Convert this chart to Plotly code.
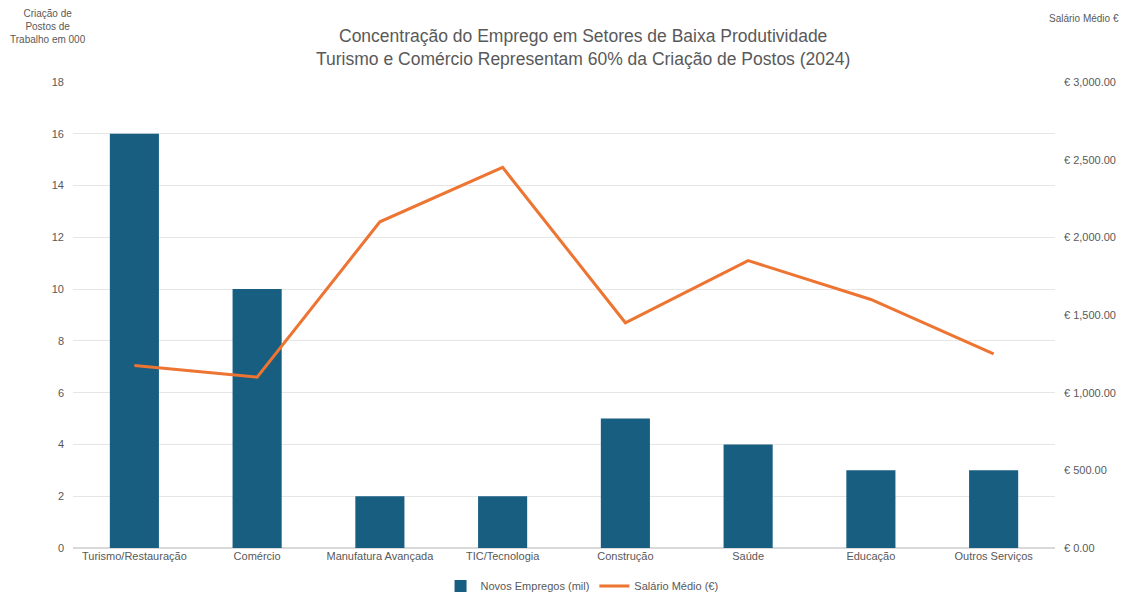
import plotly.graph_objects as go

categories = ["Turismo/Restauração", "Comércio", "Manufatura Avançada", "TIC/Tecnologia",
              "Construção", "Saúde", "Educação", "Outros Serviços"]
novos_empregos = [16, 10, 2, 2, 5, 4, 3, 3]
salario_medio = [1175, 1100, 2100, 2450, 1450, 1850, 1600, 1250]
left_ticks = [0, 2, 4, 6, 8, 10, 12, 14, 16, 18]
right_ticks = [0, 500, 1000, 1500, 2000, 2500, 3000]
right_tick_labels = ["€ " + f"{v:,.2f}" for v in right_ticks]

BAR = "#175E81"
LINE = "#ED7431"
TXT = "#595959"
FONT = "Liberation Sans, Arial, sans-serif"

fig = go.Figure()
fig.add_trace(go.Bar(x=categories, y=novos_empregos, name="Novos Empregos (mil)",
                     marker=dict(color=BAR, line=dict(width=0)), width=0.4, yaxis="y"))
fig.add_trace(go.Scatter(x=categories, y=salario_medio, name="Salário Médio (€)",
                         mode="lines", line=dict(color=LINE, width=3), yaxis="y2"))

fig.update_layout(
    width=1128, height=594,
    paper_bgcolor="white", plot_bgcolor="white",
    margin=dict(l=73, r=73, t=82, b=46, autoexpand=False),
    font=dict(family=FONT, color=TXT, size=11),
    title=dict(text="Concentração do Emprego em Setores de Baixa Produtividade<br>"
                    "Turismo e Comércio Representam 60% da Criação de Postos (2024)",
               x=0.517, xanchor="center", y=0.9296, yanchor="top",
               font=dict(size=17.5, color=TXT, family=FONT)),
    xaxis=dict(showgrid=False, showline=False, ticks="", tickfont=dict(size=11, color=TXT)),
    yaxis=dict(range=[0, 18], tickvals=left_ticks, showgrid=True, gridcolor="#E6E6E6",
               gridwidth=1, zeroline=True, zerolinecolor="#D9D9D9", showline=False,
               ticks="", ticklabelstandoff=8, tickfont=dict(size=11, color=TXT)),
    yaxis2=dict(range=[0, 3000], tickvals=right_ticks, ticktext=right_tick_labels,
                overlaying="y", side="right", showgrid=False, zeroline=False,
                showline=False, ticks="", ticklabelstandoff=8,
                tickfont=dict(size=11, color=TXT)),
    legend=dict(orientation="h", xref="container", yref="container",
                x=0.516, xanchor="center", y=0.0135, yanchor="middle",
                font=dict(size=11, color=TXT), traceorder="normal"),
    showlegend=True,
)

fig.add_annotation(text="Criação de<br>Postos de<br>Trabalho em 000", xref="paper", yref="paper",
                   x=-0.0255, y=1.163, xanchor="center", yanchor="top", showarrow=False,
                   font=dict(size=10, color=TXT, family=FONT), align="center")
fig.add_annotation(text="Salário Médio €", xref="paper", yref="paper",
                   x=1.0295, y=1.152, xanchor="center", yanchor="top", showarrow=False,
                   font=dict(size=10, color=TXT, family=FONT), align="center")

fig.write_html("out.html", config={"displayModeBar": False},
               post_script="document.body.style.margin='0';document.body.style.overflow='hidden';")
